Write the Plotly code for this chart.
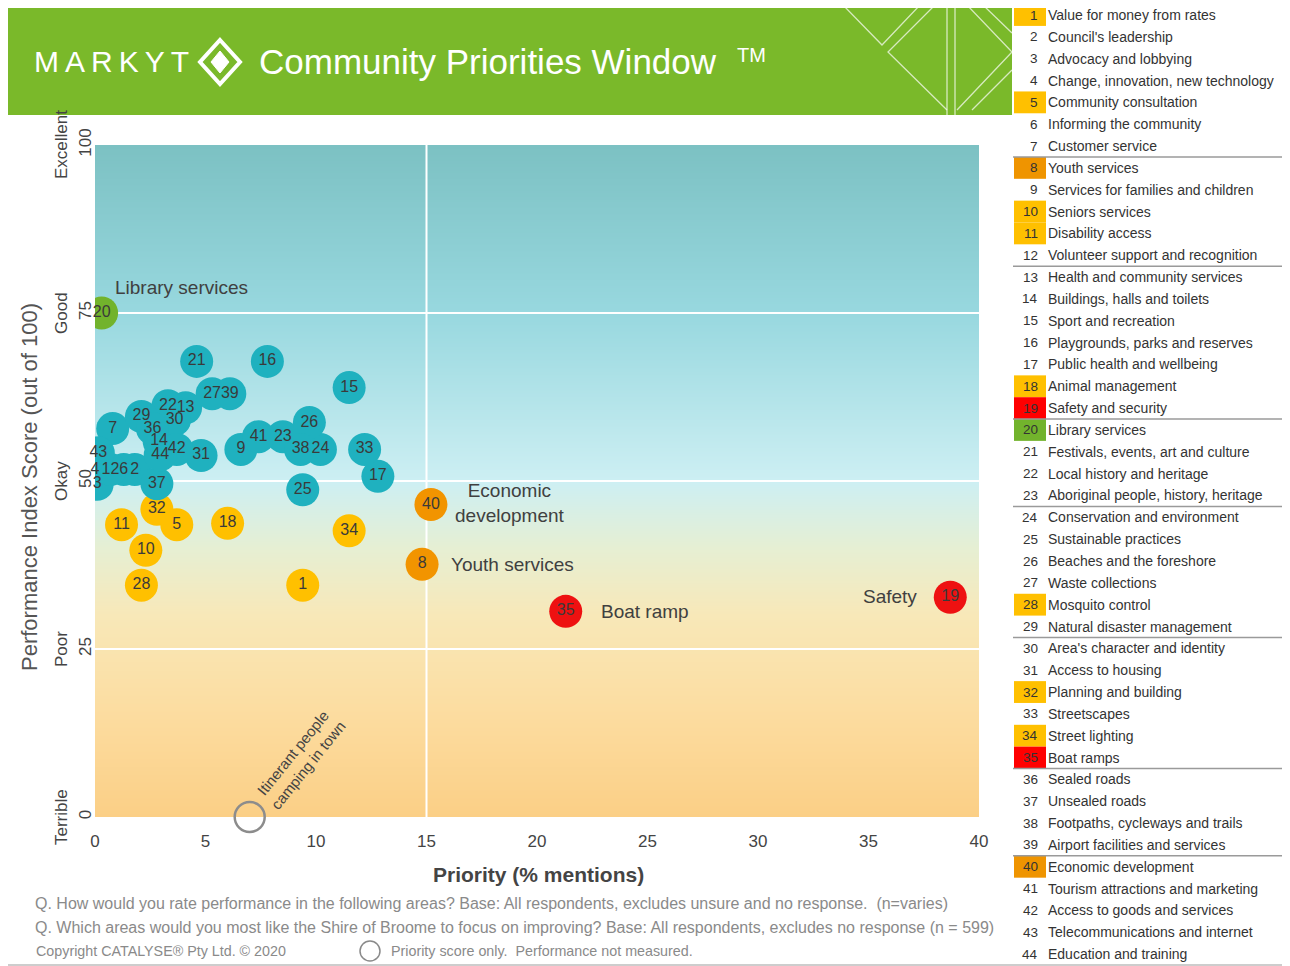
import plotly.graph_objects as go

W, H = 1290, 966
OX, OY = 8, 8  # the page body margin shifts the figure

# ---- data -------------------------------------------------------------
item_names = [
    "Value for money from rates", "Council's leadership", "Advocacy and lobbying",
    "Change, innovation, new technology", "Community consultation", "Informing the community",
    "Customer service", "Youth services", "Services for families and children",
    "Seniors services", "Disability access", "Volunteer support and recognition",
    "Health and community services", "Buildings, halls and toilets", "Sport and recreation",
    "Playgrounds, parks and reserves", "Public health and wellbeing", "Animal management",
    "Safety and security", "Library services", "Festivals, events, art and culture",
    "Local history and heritage", "Aboriginal people, history, heritage",
    "Conservation and environment", "Sustainable practices", "Beaches and the foreshore",
    "Waste collections", "Mosquito control", "Natural disaster management",
    "Area's character and identity", "Access to housing", "Planning and building",
    "Streetscapes", "Street lighting", "Boat ramps", "Sealed roads", "Unsealed roads",
    "Footpaths, cycleways and trails", "Airport facilities and services",
    "Economic development", "Tourism attractions and marketing", "Access to goods and services",
    "Telecommunications and internet", "Education and training",
]

# priority (% mentions) and performance index score, item 1..44
priority = [9.4, 1.8, 0.1, 0.0, 3.7, 1.3, 0.8, 14.8, 6.6, 2.3,
            1.2, 0.7, 4.1, 2.9, 11.5, 7.8, 12.8, 6.0, 38.7, 0.3,
            4.6, 3.3, 8.5, 10.2, 9.4, 9.7, 5.3, 2.1, 2.1, 3.6,
            4.8, 2.8, 12.2, 11.5, 21.3, 2.6, 2.8, 9.3, 6.1, 15.2,
            7.4, 3.7, 0.15, 2.95]
performance = [34.5, 51.7, 49.5, 51.7, 43.5, 51.7, 57.8, 37.6, 54.7, 39.7,
               43.5, 51.7, 60.9, 55.9, 63.9, 67.8, 50.7, 43.7, 32.7, 75.0,
               67.8, 61.2, 56.6, 54.7, 48.7, 58.7, 63.0, 34.5, 59.6, 59.1,
               53.8, 45.8, 54.7, 42.6, 30.6, 57.8, 49.6, 54.7, 63.0, 46.5,
               56.6, 54.7, 54.2, 53.9]
# colour band of each item
band = ["y", "t", "t", "t", "y", "t", "t", "o", "t", "y",
        "y", "t", "t", "t", "t", "t", "t", "y", "r", "g",
        "t", "t", "t", "t", "t", "t", "t", "y", "t", "t",
        "t", "y", "t", "y", "r", "t", "t", "t", "t", "o",
        "t", "t", "t", "t"]
# rows after which the table has a separator
group_ends = [7, 12, 19, 23, 29, 35, 39]

callouts = [("Library services", 0.8, 78.8, "left"),
            ("Economic<br>development", 18.8, 46.8, "center"),
            ("Youth services", 16.0, 37.6, "left"),
            ("Boat ramp", 22.8, 30.6, "left"),
            ("Safety", 37.3, 32.8, "right")]

unmeasured_label = "Itinerant people<br>camping in town"
unmeasured_x, unmeasured_y = [7.0], [0.0]

x_ticks = [0, 5, 10, 15, 20, 25, 30, 35, 40]
y_ticks = [0, 25, 50, 75, 100]
y_bands = ["Terrible", "Poor", "Okay", "Good", "Excellent"]

band_colours = {"t": "#1fb1bf", "y": "#ffc000", "o": "#f29400", "r": "#ee1111", "g": "#72b32c"}
swatch_colours = {"y": "#ffc000", "o": "#ef9400", "r": "#ff0000", "g": "#72b32c"}
GREEN = "#7ab92a"
FONT = "Liberation Sans, Arial, sans-serif"


def px(x):
    return (x - OX) / W


def py(y):
    return 1 - (y - OY) / H


def note(x, y, text, size, color="#404040", xanchor="center", **kw):
    return dict(x=px(x), y=py(y), xref="paper", yref="paper", text=text, showarrow=False,
                xanchor=xanchor, yanchor="middle", font=dict(size=size, color=color, family=FONT), **kw)


fig = go.Figure()

# background gradient of the window
grad_y = list(range(-5, 110, 5))
fig.add_trace(go.Heatmap(
    x=[-5, 45], y=grad_y, z=[[v, v] for v in grad_y], zmin=0, zmax=100,
    colorscale=[[0, "#fbcf86"], [0.15, "#fcdc9f"], [0.3, "#f8e8b8"], [0.4, "#e6efd3"],
                [0.5, "#cdeff3"], [0.75, "#98d8df"], [1.0, "#7cc1c3"]],
    zsmooth="best", showscale=False, hoverinfo="skip"))

# white quadrant lines
for yv in [25, 50, 75]:
    fig.add_trace(go.Scatter(x=[0, 40], y=[yv, yv], mode="lines",
                             line=dict(color="white", width=2), hoverinfo="skip"))
fig.add_trace(go.Scatter(x=[15, 15], y=[0, 100], mode="lines",
                         line=dict(color="white", width=2), hoverinfo="skip"))

labels = [str(i + 1) for i in range(len(priority))]
colours = [band_colours[b] for b in band]

fig.add_trace(go.Scatter(
    x=priority, y=performance, mode="markers",
    marker=dict(size=33, color=colours, line=dict(width=0), opacity=1),
    cliponaxis=True, hoverinfo="skip"))
fig.add_trace(go.Scatter(
    x=priority, y=performance, mode="text", text=labels,
    textfont=dict(size=16, color="#3a3a3a", family=FONT),
    textposition="middle center", cliponaxis=False, hoverinfo="skip"))

# not measured item
fig.add_trace(go.Scatter(
    x=unmeasured_x, y=unmeasured_y, mode="markers",
    marker=dict(size=30, color="rgba(0,0,0,0)", line=dict(color="#8c8c8c", width=2.5)),
    cliponaxis=False, hoverinfo="skip"))

ann = []
for text, xv, yv, anchor in callouts:
    ann.append(dict(x=xv, y=yv, xref="x", yref="y", text=text, showarrow=False,
                    xanchor=anchor, yanchor="middle", align="center",
                    font=dict(size=19, color="#404040", family=FONT)))
ann.append(dict(x=9.3, y=8.5, xref="x", yref="y", text=unmeasured_label, showarrow=False,
                xanchor="center", yanchor="middle",
                textangle=-51, font=dict(size=15, color="#444", family=FONT)))

# band names left of the axis
for yv, name in zip(y_ticks, y_bands):
    ann.append(dict(x=px(61), y=yv, xref="paper", yref="y", text=name, showarrow=False,
                    xanchor="center", yanchor="middle",
                    textangle=-90, font=dict(size=17, color="#444", family=FONT)))

ann.append(note(30, 487, "Performance Index Score (out of 100)", 22, "#555", textangle=-90))
ann.append(note(538, 874, "<b>Priority (% mentions)</b>", 21, "#444"))

# header
ann.append(note(32, 62, "M\u2009A\u2009R\u2009K\u2009Y\u2009T", 30, "white", "left"))
ann.append(note(257, 62, "Community Priorities Window", 35, "white", "left"))
ann.append(note(735, 55, "TM", 20, "white", "left"))

# footnotes
foot = [("Q. How would you rate performance in the following areas? Base: All respondents, "
         "excludes unsure and no response.  (n=varies)", 33, 903, 16),
        ("Q. Which areas would you most like the Shire of Broome to focus on improving? Base: "
         "All respondents, excludes no response (n = 599)", 33, 927, 16),
        ("Copyright CATALYSE\u00ae Pty Ltd. \u00a9 2020", 34, 951, 14.3),
        ("Priority score only.  Performance not measured.", 389, 951, 14.3)]
for text, x0, y0, size in foot:
    ann.append(note(x0, y0, text, size, "#8a8a8a", "left"))

# ranking table on the right
row_h = 21.84
shapes = []
for i, name in enumerate(item_names):
    yc = 15 + i * row_h
    if band[i] in swatch_colours:
        shapes.append(dict(type="rect", xref="paper", yref="paper",
                           x0=px(1014), x1=px(1046), y0=py(yc - row_h / 2), y1=py(yc + row_h / 2),
                           fillcolor=swatch_colours[band[i]], line=dict(width=0)))
    ann.append(note(1040, yc, str(i + 1), 13.5, "#333", "right"))
    ann.append(note(1046, yc, name, 14, "#333", "left"))
for k in group_ends:
    yl = 15 + (k - 0.5) * row_h
    shapes.append(dict(type="line", xref="paper", yref="paper", x0=px(1013), x1=px(1287),
                       y0=py(yl), y1=py(yl), line=dict(color="#9a9a9a", width=1.5)))

# frame and green header
shapes.append(dict(type="rect", xref="paper", yref="paper", x0=px(5), x1=px(1286),
                   y0=py(965), y1=py(4), line=dict(color="#bdbdbd", width=1.5)))
shapes.append(dict(type="rect", xref="paper", yref="paper", x0=px(6), x1=px(1012),
                   y0=py(115), y1=py(5), fillcolor=GREEN, line=dict(width=0)))


def path(points):
    return "M " + " L ".join(f"{px(a):.5f},{py(b):.5f}" for a, b in points)


deco = [[(843, 5), (882, 45), (920, 5)],
        [(935, 5), (888, 52), (947, 110)],
        [(947, 5), (947, 115)], [(955, 5), (955, 115)],
        [(967, 5), (1012, 52), (957, 110)],
        [(983, 5), (1012, 33)],
        [(1012, 70), (972, 110)]]
for pts in deco:
    shapes.append(dict(type="path", xref="paper", yref="paper", path=path(pts),
                       line=dict(color="rgba(255,255,255,0.7)", width=1.3)))

# logo diamond
shapes.append(dict(type="path", xref="paper", yref="paper",
                   path=path([(220, 40), (240, 62), (220, 84), (200, 62)]) + " Z",
                   line=dict(color="white", width=4)))
shapes.append(dict(type="path", xref="paper", yref="paper",
                   path=path([(220, 51), (229, 62), (220, 73), (211, 62)]) + " Z",
                   fillcolor="white", line=dict(color="white", width=1)))

# footnote circle
shapes.append(dict(type="circle", xref="paper", yref="paper", x0=px(360), x1=px(380),
                   y0=py(961), y1=py(941), line=dict(color="#8a8a8a", width=1.5)))

fig.update_layout(
    width=W, height=H, margin=dict(l=0, r=0, t=0, b=0, autoexpand=False),
    paper_bgcolor="white", plot_bgcolor="white", showlegend=False,
    font=dict(family=FONT, color="#404040"),
    xaxis=dict(domain=[px(95), px(979)], range=[0, 40], tickvals=x_ticks,
               showgrid=False, zeroline=False, showline=False, ticks="", automargin=False,
               ticklabelstandoff=12,
               tickfont=dict(size=17, color="#444"), fixedrange=True),
    yaxis=dict(domain=[py(817), py(145)], range=[0, 100], tickvals=y_ticks, tickangle=-90,
               showgrid=False, zeroline=False, showline=False, ticks="", automargin=False,
               tickfont=dict(size=17, color="#444"), fixedrange=True),
    annotations=ann, shapes=shapes,
)

fig.write_html("out.html")
